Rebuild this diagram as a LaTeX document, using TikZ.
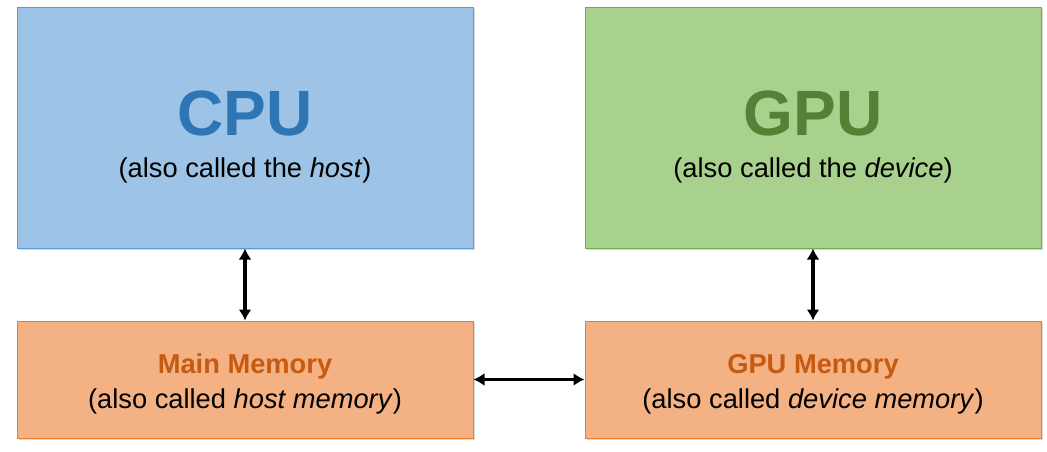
\documentclass[tikz,border=0pt]{standalone}
\usepackage{fontspec}
\setmainfont{Liberation Sans}
\usetikzlibrary{arrows.meta,positioning,shadows}

\definecolor{cpufill}{HTML}{9DC3E6}
\definecolor{cpuline}{HTML}{5B9BD5}
\definecolor{cputext}{HTML}{2E75B6}
\definecolor{gpufill}{HTML}{A9D18E}
\definecolor{gpuline}{HTML}{70AD47}
\definecolor{gputext}{HTML}{538135}
\definecolor{memfill}{HTML}{F4B183}
\definecolor{memline}{HTML}{ED7D31}
\definecolor{memtext}{HTML}{C55A11}

\begin{document}
\begin{tikzpicture}[x=1pt, y=-1pt, >={Latex[length=11pt,width=13pt]},
  unit/.style={draw, line width=1pt, minimum width=456pt, minimum height=240pt,
    inner sep=0pt, drop shadow={shadow xshift=1.5pt, shadow yshift=-1.5pt, opacity=0.3}},
  memory/.style={draw=memline, fill=memfill, line width=1pt, minimum width=456pt,
    minimum height=117pt, inner sep=0pt, drop shadow={shadow xshift=1.5pt, shadow yshift=-1.5pt, opacity=0.3}},
  title/.style={anchor=base, inner sep=0pt, font=\fontsize{64}{70}\selectfont\bfseries},
  note/.style={anchor=base, inner sep=0pt, font=\fontsize{27.3}{33}\selectfont},
  memtitle/.style={note, text=memtext, font=\fontsize{27.3}{33}\selectfont\bfseries},
  link/.style={<->, line width=3.6pt}]
\useasboundingbox (0,0) rectangle (1047,452);
% processors
\node[unit, draw=cpuline, fill=cpufill] (cpu) at (245,128) {};
\node[unit, draw=gpuline, fill=gpufill] (gpu) at (813,128) {};
\node[title, text=cputext] (cputitle) at (245,135) {CPU};
\node[note] (cpunote) at (245,177) {(also called the \textit{host})};
\node[title, text=gputext] (gputitle) at (813,135) {GPU};
\node[note] (gpunote) at (813,177) {(also called the \textit{device})};
% memories
\node[memory] (mainmem) at (245,379.5) {};
\node[memory] (gpumem) at (813,379.5) {};
\node[memtitle] (mainmemtitle) at (245,373.3) {Main Memory};
\node[note] (mainmemnote) at (245,408.3) {(also called \textit{host memory})};
\node[memtitle] (gpumemtitle) at (813,373.3) {GPU Memory};
\node[note] (gpumemnote) at (813,408.3) {(also called \textit{device memory})};
% links
\draw[link] (cpu) -- (mainmem);
\draw[link] (gpu) -- (gpumem);
\draw[link] (mainmem) -- (gpumem);
\end{tikzpicture}
\end{document}
